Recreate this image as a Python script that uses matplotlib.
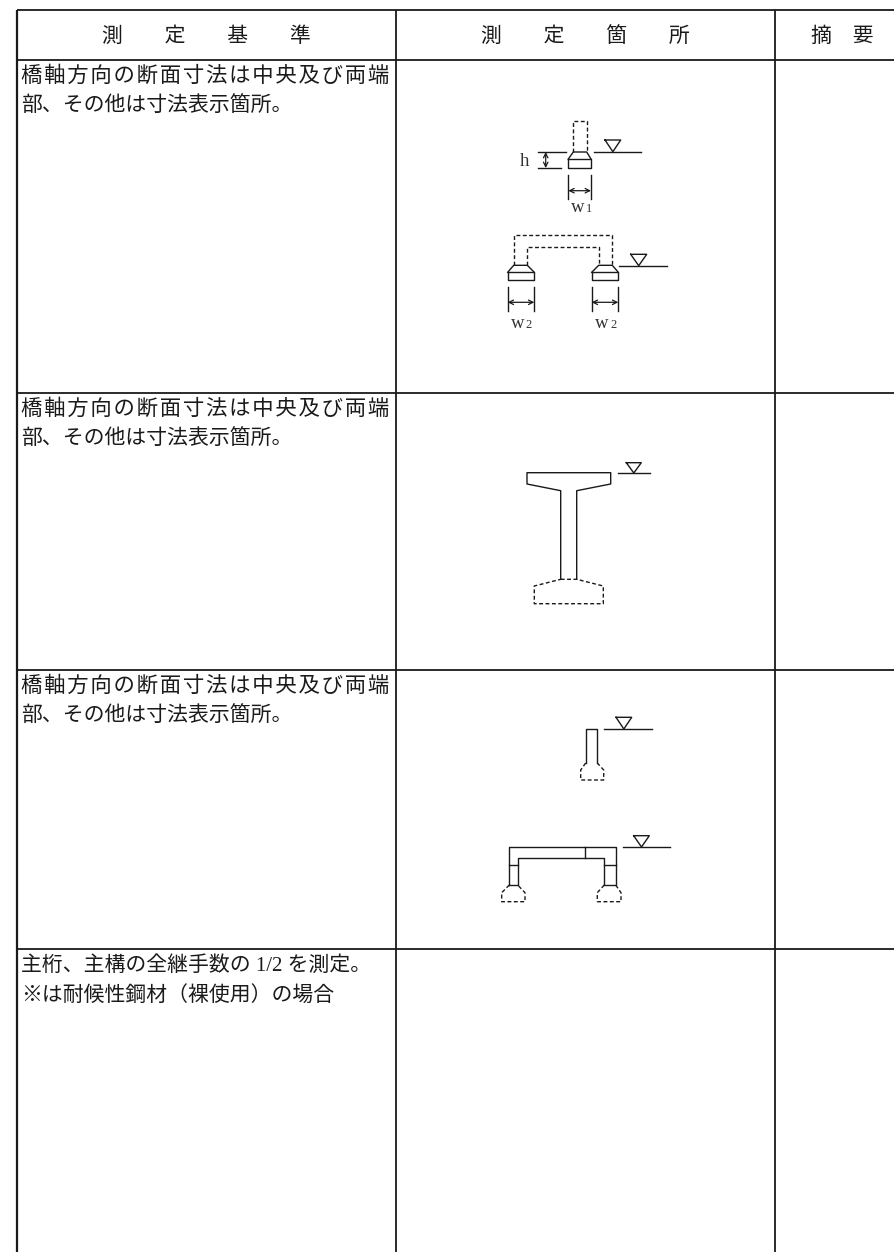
import matplotlib
matplotlib.use('Agg')
import matplotlib.pyplot as plt

W, H = 894, 1253
INK = '#1a1a1a'
JP = ['Liberation Serif', 'Noto Sans CJK JP', 'DejaVu Sans']
HS = '\u200a'  # hair space, stretches the justified first lines

HEADERS = ['測　　定　　基　　準', '測　　定　　箇　　所', '摘　要']
BODY_LONG = HS.join('橋軸方向の断面寸法は中央及び両端')
BODY_NEXT = '部、その他は寸法表示箇所。'
JOINT_1 = '主桁、主構の全継手数の 1/2 を測定。'
JOINT_2 = '※は耐候性鋼材（裸使用）の場合'

COL_X = [16.5, 396, 775]
ROW_Y = [10, 60, 393, 670, 949]
BOTTOM_Y = 1252

# diagram outlines, picture pixels
SOLID = [
    [(568.3, 159), (591, 159), (591, 168.3), (568.3, 168.3), (568.3, 159)],
    [(568.3, 159), (573.3, 152), (586.7, 152), (591, 159)],
    [(507.7, 272.3), (534.3, 272.3), (534.3, 280.3), (507.7, 280.3), (507.7, 272.3)],
    [(507.7, 272.3), (513.7, 265.3), (527.3, 265.3), (534.3, 272.3)],
    [(591.7, 272.3), (618.3, 272.3), (618.3, 280.3), (591.7, 280.3), (591.7, 272.3)],
    [(591.7, 272.3), (598.7, 265.3), (612.3, 265.3), (618.3, 272.3)],
    [(560.7, 579.3), (560.7, 490.7), (527, 484), (527, 472.7), (610.7, 472.7),
     (610.7, 484), (576.7, 490.7), (576.7, 579.3)],
    [(585.7, 763), (585.7, 729), (597.3, 729), (597.3, 763)],
    [(509.3, 885), (509.3, 846.7), (615.7, 846.7), (615.7, 885), (604.3, 885),
     (604.3, 858.3), (517.7, 858.3), (517.7, 885), (509.3, 885)],
    [(509.3, 865.3), (517.7, 865.3)],
    [(604.3, 865.3), (615.7, 865.3)],
    [(585, 846.7), (585, 858.3)],
    # h and w extension lines
    [(537.7, 151.7), (565.7, 151.7)],
    [(537.7, 168), (561, 168)],
    [(568.3, 175), (568.3, 198.7)],
    [(591, 175), (591, 198.7)],
    [(507.7, 287.3), (507.7, 310.7)],
    [(534.3, 287.3), (534.3, 310.7)],
    [(591.7, 287.3), (591.7, 310.7)],
    [(618.3, 287.3), (618.3, 310.7)],
]
DASHED = [
    [(573.3, 152), (573.3, 121), (586.7, 121), (586.7, 152)],
    [(513.7, 265.3), (513.7, 235.3), (612.3, 235.3), (612.3, 265.3)],
    [(527.3, 265.3), (527.3, 246.7), (598.7, 246.7), (598.7, 265.3)],
    [(560.7, 579.3), (576.7, 579.3), (603.3, 586), (603.3, 603.7), (534.3, 603.7),
     (534.3, 586), (560.7, 579.3)],
    [(585.7, 763), (580.7, 770), (580.7, 780), (603.7, 780), (603.7, 770), (597.3, 763)],
    [(509.3, 885), (501.7, 892.7), (501.7, 901.7), (525, 901.7), (525, 892.7), (517.7, 885)],
    [(604.3, 885), (597.3, 892.7), (597.3, 901.7), (621, 901.7), (621, 892.7), (615.7, 885)],
]
# water level: line x0, x1, y, triangle left, right, top
WATER = [
    (593.7, 641, 151.7, 605, 620.7, 140),
    (619.3, 666.7, 265.7, 630.7, 646.7, 254.3),
    (618, 650.3, 473, 626.3, 641.3, 462.7),
    (604.3, 652, 729, 616, 631.7, 717.3),
    (622.7, 670.3, 847, 633.7, 649.3, 835.7),
]
ARROWS = [
    ((545.7, 152), (545.7, 168)),
    ((568.3, 190.7), (591, 190.7)),
    ((507.7, 302.3), (534.3, 302.3)),
    ((591.7, 302.3), (618.3, 302.3)),
]
DIM_LABELS = [('h', 524, 162), ('w', 578, 207), ('w', 518, 324), ('w', 602, 324)]
DIM_SUBS = [('1', 589, 209), ('2', 529, 325), ('2', 614, 325)]

fig = plt.figure(figsize=(W / 100, H / 100), dpi=100)
ax = fig.add_axes([0, 0, 1, 1])
ax.set_xlim(0, W)
ax.set_ylim(H, 0)
ax.axis('off')

# table frame
for y in ROW_Y:
    ax.plot([COL_X[0], W], [y, y], color=INK, lw=1.3, solid_capstyle='butt')
ax.plot([COL_X[0], COL_X[0]], [ROW_Y[0], BOTTOM_Y], color=INK, lw=1.6, solid_capstyle='butt')
for x in COL_X[1:]:
    ax.plot([x, x], [ROW_Y[0], BOTTOM_Y], color=INK, lw=1.3, solid_capstyle='butt')

# header
for label, xc in zip(HEADERS, [206, 585, 842]):
    ax.text(xc, 37.5, label, ha='center', va='center', fontsize=15, family=JP, color=INK)

# left column text
for y in ROW_Y[1:4]:
    ax.text(21, y + 17, BODY_LONG, va='center', fontsize=15.4, family=JP, color=INK)
    ax.text(21, y + 46.5, BODY_NEXT, va='center', fontsize=15, family=JP, color=INK)
ax.text(21, 966, JOINT_1, va='center', fontsize=15, family=JP, color=INK)
ax.text(21, 996, JOINT_2, va='center', fontsize=15, family=JP, color=INK)

# diagrams
for pts in SOLID:
    ax.plot([p[0] for p in pts], [p[1] for p in pts], color=INK, lw=1.0)
for pts in DASHED:
    ax.plot([p[0] for p in pts], [p[1] for p in pts], color=INK, lw=1.0, ls=(0, (2.8, 1.8)))
for x0, x1, y, tl, tr, tt in WATER:
    ax.plot([x0, x1], [y, y], color=INK, lw=1.0)
    ax.plot([tl, tr, (tl + tr) / 2, tl], [tt, tt, y, tt], color=INK, lw=1.0)
for a, b in ARROWS:
    ax.annotate('', xy=b, xytext=a,
                arrowprops=dict(arrowstyle='<->', color=INK, lw=0.9, shrinkA=0, shrinkB=0,
                                mutation_scale=8))
for s, x, y in DIM_LABELS:
    ax.text(x, y, s, ha='center', va='center', fontsize=13.5, family='Liberation Serif', color='#333333')
for s, x, y in DIM_SUBS:
    ax.text(x, y, s, ha='center', va='center', fontsize=9, family='Liberation Serif', color='#333333')

fig.savefig('out.png', dpi=100, facecolor='white')
